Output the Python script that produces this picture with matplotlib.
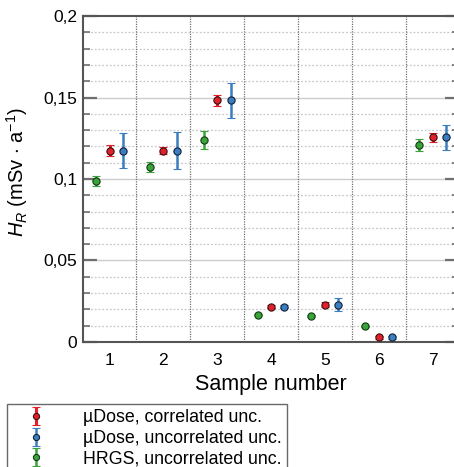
import matplotlib
matplotlib.use("Agg")
import matplotlib.pyplot as plt
import numpy as np

plt.rcParams['font.family'] = ['Liberation Sans', 'DejaVu Sans']
plt.rcParams['mathtext.fontset'] = 'custom'
plt.rcParams['mathtext.rm'] = 'Liberation Sans'
plt.rcParams['mathtext.it'] = 'Liberation Sans:italic'

samples = [1, 2, 3, 4, 5, 6, 7]
udose_val = [0.1174, 0.1174, 0.1483, 0.0217, 0.0229, 0.0029, 0.1255]
udose_corr_err = [0.0034, 0.0020, 0.0034, 0.0010, 0.0015, 0.0008, 0.0026]
udose_unc_err = [0.0107, 0.0115, 0.0106, 0.0010, 0.0041, 0.0010, 0.0078]
hrgs_val = [0.0986, 0.1074, 0.1241, 0.0168, 0.0161, 0.0096, 0.1210]
hrgs_err = [0.0030, 0.0030, 0.0055, 0.0005, 0.0005, 0.0005, 0.0038]
yticks = [0, 0.05, 0.1, 0.15, 0.2]
ytick_labels = ["0", "0,05", "0,1", "0,15", "0,2"]

red = '#e0202a'
blue = '#3a7dc0'
green = '#3aa33a'

fig = plt.figure(figsize=(4.54, 4.67), dpi=100)
ax = fig.add_axes([0.182, 0.2677, 0.83, 0.698])

x = np.array(samples, dtype=float)
ax.set_xlim(0.5, 7.5)
ax.set_ylim(0, 0.2)

# grid
for yv in np.arange(0.01, 0.2, 0.01):
    if abs(round(yv / 0.05) * 0.05 - yv) < 1e-9:
        ax.axhline(yv, color='#cccccc', lw=1.0, zorder=0)
    else:
        ax.axhline(yv, color='#c8c8c8', lw=0.9, ls=(0, (1.5, 1.5)), zorder=0)
for xv in np.arange(1.5, 7.0, 1.0):
    ax.axvline(xv, color='#707070', lw=0.9, ls=(0, (1, 1)), zorder=0)

ms = 5.2
h_red = ax.errorbar(x, udose_val, yerr=udose_corr_err, fmt='o', color=red, ecolor=red,
                    mfc=red, mec='#3a1010', ms=ms, mew=0.8, elinewidth=2.2, capsize=3.2,
                    capthick=1.6, zorder=3)
h_blue = ax.errorbar(x + 0.25, udose_val, yerr=udose_unc_err, fmt='o', color=blue, ecolor=blue,
                     mfc=blue, mec='#10203a', ms=ms, mew=0.8, elinewidth=1.8, capsize=3.2,
                     capthick=1.6, zorder=3)
h_green = ax.errorbar(x - 0.25, hrgs_val, yerr=hrgs_err, fmt='o', color=green, ecolor=green,
                      mfc=green, mec='#103a10', ms=ms, mew=0.8, elinewidth=1.8, capsize=3.2,
                      capthick=1.6, zorder=3)

ax.set_xticks(samples)
ax.set_xticklabels([str(s) for s in samples])
ax.set_yticks(yticks)
ax.set_yticklabels(ytick_labels)
ax.set_yticks(np.arange(0, 0.2001, 0.01), minor=True)
ax.tick_params(axis='y', which='major', direction='in', length=10, width=1.6, color='#707070',
               right=True, labelsize=12.5, pad=4)
ax.tick_params(axis='y', which='minor', direction='in', length=5, width=1.2, color='#707070',
               right=True)
ax.tick_params(axis='x', which='both', length=0, labelsize=12.5, pad=8)

for s in ['left', 'top', 'bottom', 'right']:
    ax.spines[s].set_color('#555555')
    ax.spines[s].set_linewidth(1.5)

ax.set_xlabel('Sample number', fontsize=15.5, labelpad=4)
ax.set_ylabel(r'$H_R$ (mSv $\cdot$ a$^{\mathregular{-1}}$)', fontsize=14.5, labelpad=4)
ax.yaxis.set_label_coords(-0.14, 0.52)

leg = fig.legend([h_red, h_blue, h_green],
                 ['\u00b5Dose, correlated unc.', '\u00b5Dose, uncorrelated unc.',
                  'HRGS, uncorrelated unc.'],
                 loc='upper left', bbox_to_anchor=(7 / 454, 1 - 404 / 467),
                 bbox_transform=fig.transFigure, fontsize=12.8, frameon=True,
                 fancybox=False, edgecolor='#444444', labelspacing=0.2,
                 handlelength=2.7, handletextpad=1.25, borderpad=0.3, borderaxespad=0,
                 markerscale=0.85)
leg.get_frame().set_linewidth(1.0)

fig.savefig('out.png', dpi=100)
